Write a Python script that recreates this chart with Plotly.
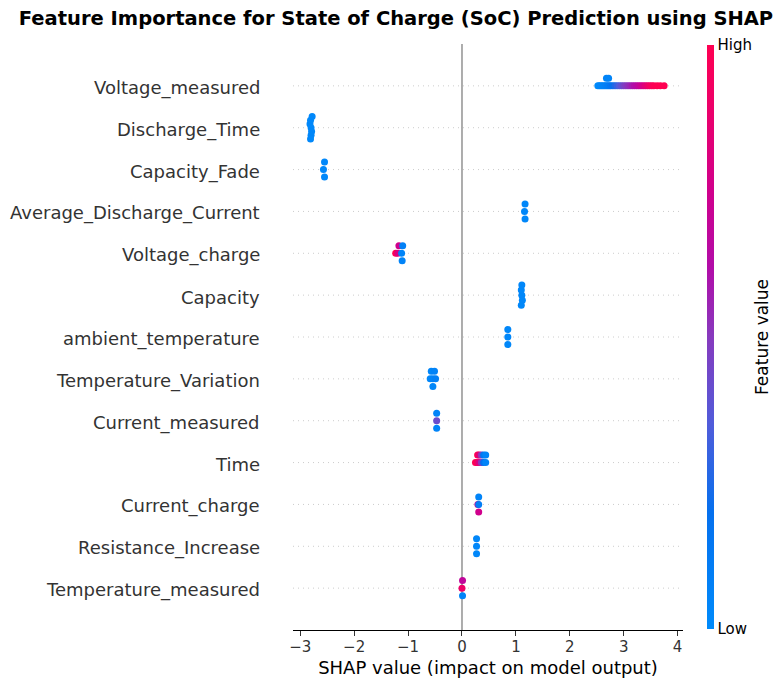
import plotly.graph_objects as go

# ---- data (top to bottom order of features) ----
features = [
    "Voltage_measured", "Discharge_Time", "Capacity_Fade", "Average_Discharge_Current",
    "Voltage_charge", "Capacity", "ambient_temperature", "Temperature_Variation",
    "Current_measured", "Time", "Current_charge", "Resistance_Increase", "Temperature_measured",
]

voltage_measured_shap = [2.52, 2.55, 2.58, 2.61, 2.64, 2.67, 2.70, 2.73, 2.76, 2.80, 2.84, 2.88,
                         2.92, 2.96, 3.00, 3.04, 3.08, 3.12, 3.16, 3.20, 3.24, 3.28, 3.32, 3.36,
                         3.40, 3.44, 3.48, 3.52, 3.56, 3.62, 3.68, 3.75, 2.68, 2.72]
voltage_measured_val = [0.0, 0.02, 0.03, 0.05, 0.06, 0.08, 0.10, 0.12, 0.16, 0.20, 0.25, 0.30,
                        0.35, 0.40, 0.45, 0.49, 0.52, 0.55, 0.58, 0.61, 0.64, 0.68, 0.72, 0.77,
                        0.82, 0.87, 0.92, 0.95, 0.98, 1.0, 1.0, 1.0, 0.05, 0.05]
voltage_measured_layer = [0] * 32 + [1, 1]

discharge_time_shap = [-2.80, -2.82, -2.79, -2.81, -2.80, -2.78, -2.81]
discharge_time_val = [0.02, 0.02, 0.03, 0.02, 0.03, 0.02, 0.02]
discharge_time_layer = [0, 1, -1, 2, -2, 3, -3]

capacity_fade_shap = [-2.55, -2.57, -2.55]
capacity_fade_val = [0.02, 0.02, 0.02]
capacity_fade_layer = [1, 0, -1]

avg_discharge_current_shap = [1.17, 1.16, 1.17]
avg_discharge_current_val = [0.03, 0.03, 0.03]
avg_discharge_current_layer = [1, 0, -1]

voltage_charge_shap = [-1.17, -1.10, -1.23, -1.19, -1.12, -1.11]
voltage_charge_val = [0.75, 0.08, 1.0, 0.8, 0.05, 0.05]
voltage_charge_layer = [1, 1, 0, 0, 0, -1]

capacity_shap = [1.11, 1.10, 1.12, 1.11, 1.10]
capacity_val = [0.03, 0.03, 0.03, 0.03, 0.03]
capacity_layer = [0, 1, -1, 2, -2]

ambient_temperature_shap = [0.85, 0.85, 0.85]
ambient_temperature_val = [0.03, 0.03, 0.03]
ambient_temperature_layer = [1, 0, -1]

temperature_variation_shap = [-0.57, -0.51, -0.59, -0.54, -0.49, -0.54]
temperature_variation_val = [0.04, 0.06, 0.03, 0.05, 0.08, 0.04]
temperature_variation_layer = [1, 1, 0, 0, 0, -1]

current_measured_shap = [-0.47, -0.47, -0.47]
current_measured_val = [0.05, 0.42, 0.05]
current_measured_layer = [1, 0, -1]

time_shap = [0.29, 0.32, 0.36, 0.40, 0.44, 0.25, 0.28, 0.32, 0.36, 0.40, 0.44]
time_val = [1.0, 0.85, 0.5, 0.15, 0.05, 1.0, 0.95, 0.8, 0.5, 0.2, 0.05]
time_layer = [1, 1, 1, 1, 1, 0, 0, 0, 0, 0, 0]

current_charge_shap = [0.31, 0.295, 0.31, 0.31]
current_charge_val = [0.05, 0.7, 0.1, 0.75]
current_charge_layer = [1, 0, 0, -1]

resistance_increase_shap = [0.27, 0.27, 0.27]
resistance_increase_val = [0.03, 0.03, 0.03]
resistance_increase_layer = [1, 0, -1]

temperature_measured_shap = [0.01, 0.0, 0.01]
temperature_measured_val = [0.68, 0.9, 0.05]
temperature_measured_layer = [1, 0, -1]

all_shap = [voltage_measured_shap, discharge_time_shap, capacity_fade_shap, avg_discharge_current_shap,
            voltage_charge_shap, capacity_shap, ambient_temperature_shap, temperature_variation_shap,
            current_measured_shap, time_shap, current_charge_shap, resistance_increase_shap,
            temperature_measured_shap]
all_val = [voltage_measured_val, discharge_time_val, capacity_fade_val, avg_discharge_current_val,
           voltage_charge_val, capacity_val, ambient_temperature_val, temperature_variation_val,
           current_measured_val, time_val, current_charge_val, resistance_increase_val,
           temperature_measured_val]
all_layer = [voltage_measured_layer, discharge_time_layer, capacity_fade_layer, avg_discharge_current_layer,
             voltage_charge_layer, capacity_layer, ambient_temperature_layer, temperature_variation_layer,
             current_measured_layer, time_layer, current_charge_layer, resistance_increase_layer,
             temperature_measured_layer]

x_ticks = [-3, -2, -1, 0, 1, 2, 3, 4]

# ---- build ----
n = len(features)
row_height = 0.4
xs, ys, cs = [], [], []
for i, name in enumerate(features):
    pos = n - 1 - i
    layers = all_layer[i]
    scale = 0.9 * row_height / (max(layers) + 1)
    for s, v, l in zip(all_shap[i], all_val[i], layers):
        xs.append(s)
        ys.append(pos + l * scale)
        cs.append(v)

colorscale = [
    [0.0, "rgb(0,139,251)"],
    [0.2, "rgb(5,112,238)"],
    [0.35, "rgb(80,92,218)"],
    [0.5, "rgb(135,58,190)"],
    [0.62, "rgb(178,12,168)"],
    [0.75, "rgb(208,0,140)"],
    [0.9, "rgb(238,0,104)"],
    [1.0, "rgb(255,0,82)"],
]

fig = go.Figure()
fig.add_trace(go.Scatter(
    x=xs, y=ys, mode="markers",
    marker=dict(size=7, color=cs, colorscale=colorscale, cmin=0, cmax=1,
                line=dict(width=0), showscale=True,
                colorbar=dict(
                    thickness=7, len=584, lenmode="pixels", x=1.0615, xanchor="left", xpad=0,
                    y=0.5, yanchor="middle", ypad=0, outlinewidth=0,
                    tickvals=[0, 1], ticktext=["Low", "High"], ticks="",
                    tickfont=dict(family="DejaVu Sans", size=15, color="#000000"),
                )),
    hoverinfo="skip", showlegend=False,
))

for i in range(n):
    fig.add_shape(type="line", xref="paper", x0=0, x1=1, yref="y", y0=i, y1=i,
                  line=dict(color="#cccccc", width=1, dash="1px,4px"), layer="below")
fig.add_shape(type="line", xref="x", x0=0, x1=0, yref="paper", y0=0, y1=1,
              line=dict(color="#999999", width=1.6), layer="below")

# feature labels (as annotations so they can sit slightly below row centre like the reference)
for i, name in enumerate(features):
    fig.add_annotation(text=name, xref="paper", x=0, xanchor="right", xshift=-31,
                       yref="y", y=n - 1 - i, yanchor="middle", yshift=-2,
                       showarrow=False,
                       font=dict(family="DejaVu Sans", size=18, color="#333333"))

fig.add_annotation(text="Feature value", xref="paper", yref="paper",
                   x=(762 - 293) / 390, y=0.5, xanchor="center", yanchor="middle",
                   textangle=-90, showarrow=False,
                   font=dict(family="DejaVu Sans", size=17, color="#000000"))

fig.update_layout(
    width=782, height=688,
    margin=dict(l=293, r=99, t=44, b=58, autoexpand=False),
    paper_bgcolor="white", plot_bgcolor="white",
    font=dict(family="DejaVu Sans", color="#333333"),
    title=dict(text="<b>Feature Importance for State of Charge (SoC) Prediction using SHAP</b>",
               x=396 / 782, xanchor="center", xref="container", y=1 - 18.5 / 688, yanchor="middle",
               yref="container",
               font=dict(family="DejaVu Sans", size=19.5, color="#000000")),
    xaxis=dict(range=[-3.135, 4.10], tickvals=x_ticks, ticks="outside", ticklen=5,
               tickcolor="#333333", tickwidth=1, showline=True, linecolor="#000000", linewidth=1,
               showgrid=False, zeroline=False, automargin=False, ticklabelstandoff=-2,
               tickfont=dict(family="DejaVu Sans", size=15, color="#333333"),
               title=dict(text="SHAP value (impact on model output)", standoff=6,
                          font=dict(family="DejaVu Sans", size=18, color="#000000"))),
    yaxis=dict(range=[-1, n], tickvals=list(range(n)), showticklabels=False,
               showgrid=False, zeroline=False, showline=False, ticks="", automargin=False),
)

fig.write_html("out.html")
